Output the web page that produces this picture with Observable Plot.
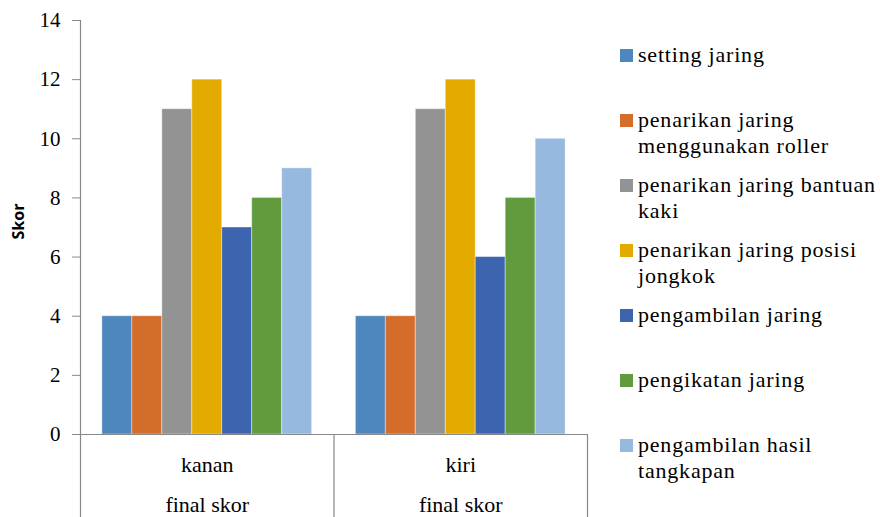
<!DOCTYPE html>
<html>
<head>
<meta charset="utf-8">
<script src="https://cdn.jsdelivr.net/npm/d3@7"></script>
<script src="https://cdn.jsdelivr.net/npm/@observablehq/plot@0.6"></script>
<style>
  body { margin: 0; background: #fff; font-family: "Liberation Serif", "Times New Roman", serif; }
  #wrap { position: relative; width: 880px; height: 517px; overflow: hidden; }
  #legend { position: absolute; left: 620px; top: 0; font-family: "Liberation Serif", "Times New Roman", serif; font-size: 22px; letter-spacing: 0.8px; color: #000; }
  .item { position: absolute; left: 0; display: flex; align-items: flex-start; white-space: nowrap; }
  .sw { width: 13px; height: 13px; margin-right: 5px; margin-top: 7.5px; flex: none; }
  .lbl { line-height: 26px; }
</style>
</head>
<body>
<div id="wrap"><div id="chart"></div><div id="legend"></div></div>
<script>
const groups = ["kanan", "kiri"];
const groupSub = "final skor";
const series = [
  "setting jaring",
  "penarikan jaring menggunakan roller",
  "penarikan jaring bantuan kaki",
  "penarikan jaring posisi jongkok",
  "pengambilan jaring",
  "pengikatan jaring",
  "pengambilan hasil tangkapan"
];
const legendLines = [
  ["setting jaring"],
  ["penarikan jaring", "menggunakan roller"],
  ["penarikan jaring bantuan", "kaki"],
  ["penarikan jaring posisi", "jongkok"],
  ["pengambilan jaring"],
  ["pengikatan jaring"],
  ["pengambilan hasil", "tangkapan"]
];
const kananValues = [4, 4, 11, 12, 7, 8, 9];
const kiriValues = [4, 4, 11, 12, 6, 8, 10];
const colors = ["#4E86BE", "#D46C2A", "#939393", "#E3AA00", "#3D64AE", "#629A3E", "#98B9DF"];
const yTicks = [0, 2, 4, 6, 8, 10, 12, 14];

const data = [];
series.forEach((s, i) => data.push({group: "kanan", series: s, value: kananValues[i]}));
series.forEach((s, i) => data.push({group: "kiri", series: s, value: kiriValues[i]}));

const W = 880, H = 517, ML = 80, MR = 293, MT = 20, MB = 83;
const facetW = (W - ML - MR) / groups.length;
const axisColor = "#888888";

const chart = Plot.plot({
  width: W,
  height: H,
  marginLeft: ML,
  marginRight: MR,
  marginTop: MT,
  marginBottom: MB,
  style: {fontFamily: "'Liberation Serif', 'Times New Roman', serif", fontSize: "21px", color: "#000", background: "#fff", overflow: "visible"},
  fx: {domain: groups, padding: 0, round: false},
  x: {domain: series, paddingInner: 0, paddingOuter: 0.73, round: false, axis: null},
  y: {domain: [0, 14], ticks: yTicks},
  color: {domain: series, range: colors},
  marks: [
    Plot.barY(data, {fx: "group", x: "series", y: "value", fill: "series", stroke: "#fff", strokeOpacity: 0.4, strokeWidth: 1}),
    Plot.ruleY([0], {stroke: axisColor, strokeWidth: 1.2}),
    Plot.ruleX(groups.slice(0, 1), {fx: d => d, x: null, stroke: axisColor, strokeWidth: 1.2, dx: -facetW / 2, insetBottom: -MB}),
    Plot.ruleX(groups.slice(1).map(g => ({g, y1: 0})), {fx: "g", x: null, y1: "y1", stroke: axisColor, strokeWidth: 1.2, dx: -facetW / 2, insetBottom: -MB}),
    Plot.ruleX(groups.slice(-1).map(g => ({g, y1: 0})), {fx: "g", x: null, y1: "y1", stroke: axisColor, strokeWidth: 1.2, dx: facetW / 2, insetBottom: -MB}),
    Plot.axisY({ticks: yTicks, tickSize: 8, tickPadding: 12, stroke: axisColor, label: null, fontSize: 21}),
    Plot.axisFx({anchor: "bottom", tickSize: 0, tickPadding: 8, label: null, fontSize: 22, lineHeight: 1.86, tickFormat: d => d + "\n" + groupSub, style: {letterSpacing: "0.8px"}}),
    Plot.text(groups.slice(0, 1), {fx: d => d, text: () => "Skor", frameAnchor: "left", rotate: -90, dx: -62, dy: 12, fontFamily: "'Open Sans', 'Liberation Sans', sans-serif", fontWeight: "bold", fontSize: 16})
  ]
});
document.getElementById("chart").appendChild(chart);

const legend = d3.select("#legend");
legendLines.forEach((lines, i) => {
  const item = legend.append("div").attr("class", "item").style("top", (41.5 + 65 * i) + "px");
  item.append("div").attr("class", "sw").style("background", colors[i]);
  item.append("div").attr("class", "lbl").html(lines.join("<br>"));
});
</script>
</body>
</html>
